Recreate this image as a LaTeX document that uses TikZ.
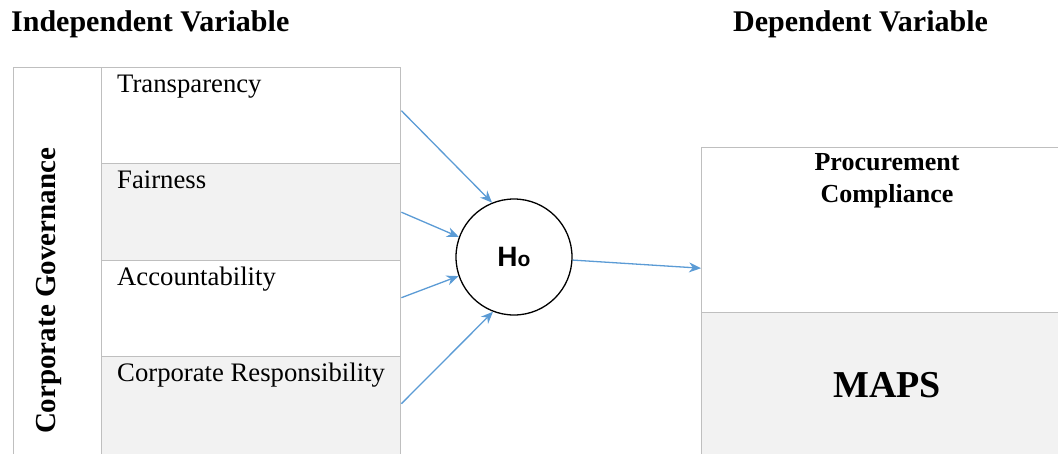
\documentclass[tikz,border=0pt]{standalone}
\usepackage{fontspec}
\setmainfont{Liberation Serif}
\newfontfamily\hofont{Liberation Sans}
\usepackage{xcolor}
\usetikzlibrary{shapes, arrows.meta, positioning}

\definecolor{cellgrey}{HTML}{F2F2F2}
\definecolor{linegrey}{HTML}{BFBFBF}
\definecolor{arrowblue}{HTML}{5B9BD5}

\begin{document}
\begin{tikzpicture}[
            x=1pt, y=-1pt,
            cell/.style={rectangle, draw=linegrey, line width=1.4pt, inner sep=0pt, anchor=north west},
            whitecell/.style={cell, fill=white},
            greycell/.style={cell, fill=cellgrey},
            label/.style={anchor=north west, inner sep=0pt, font=\fontsize{26.7}{30}\selectfont},
            heading/.style={inner sep=0pt, font=\bfseries\fontsize{30}{32}\selectfont},
            hypo/.style={circle, draw, line width=1.3pt, minimum size=116pt, inner sep=0pt},
            link/.style={draw=arrowblue, line width=1.3pt, -{Stealth[length=12pt, width=10pt]}}
        ]
        \useasboundingbox (0,0) rectangle (1058,453);

        % Headings
        \node[heading, anchor=base west] (indep) at (11,31) {Independent Variable};
        \node[heading, anchor=base west] (dep) at (733,31) {Dependent Variable};

        % Independent side
        \node[whitecell, minimum width=88pt, minimum height=393pt] (cg) at (13,67) {};
        \node[rotate=90, heading, font=\bfseries\fontsize{29}{30}\selectfont] (cgtext) at (49,291) {Corporate Governance};

        \node[whitecell, minimum width=299pt, minimum height=96pt] (transp) at (101,67) {};
        \node[greycell, minimum width=299pt, minimum height=97pt] (fair) at (101,163) {};
        \node[whitecell, minimum width=299pt, minimum height=96pt] (acc) at (101,260) {};
        \node[greycell, minimum width=299pt, minimum height=104pt] (resp) at (101,356) {};

        \node[label] (transptext) at (117,75) {Transparency};
        \node[label] (fairtext) at (117,171) {Fairness};
        \node[label] (acctext) at (117,267) {Accountability};
        \node[label] (resptext) at (117,363) {Corporate Responsibility};

        % Hypothesis
        \node[hypo] (h0) at (514,257) {\hofont\bfseries{\fontsize{28}{30}\selectfont H}{\fontsize{21}{24}\selectfont o}};

        % Dependent side
        \node[whitecell, minimum width=370pt, minimum height=165pt] (proc) at (701,147) {};
        \node[greycell, minimum width=370pt, minimum height=150pt] (maps) at (701,312) {};

        \node[heading, align=center, font=\bfseries\fontsize{26}{32}\selectfont, anchor=north] (proctext) at (887,153) {Procurement\\Compliance};
        \node[heading, font=\bfseries\fontsize{38}{40}\selectfont] (mapstext) at (887,385) {MAPS};

        % Connections
        \draw[link] ([yshift=5pt]transp.east) -- (h0.112);
        \draw[link] (fair.east) -- (h0.160);
        \draw[link] ([yshift=11pt]acc.east) -- (h0.199);
        \draw[link] ([yshift=5pt]resp.east) -- (h0.249);
        \draw[link] (h0.-3) -- ([yshift=-38pt]proc.west);

    \end{tikzpicture}
\end{document}
